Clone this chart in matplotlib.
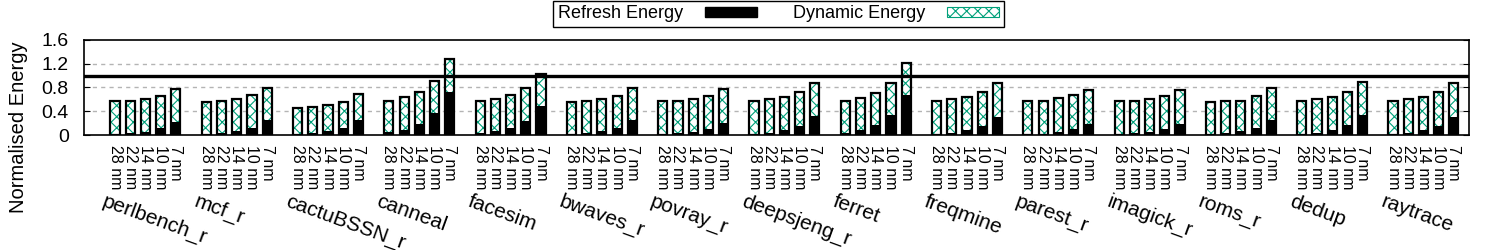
import matplotlib
matplotlib.use("Agg")
import matplotlib.pyplot as plt
import matplotlib.patches as mpatches
from matplotlib.transforms import blended_transform_factory
import numpy as np

plt.rcParams['font.family'] = ['Liberation Sans', 'DejaVu Sans']
plt.rcParams['hatch.linewidth'] = 0.8

benchmarks = ["perlbench_r", "mcf_r", "cactuBSSN_r", "canneal", "facesim", "bwaves_r",
              "povray_r", "deepsjeng_r", "ferret", "freqmine", "parest_r", "imagick_r",
              "roms_r", "dedup", "raytrace"]
nodes = ["28 nm", "22 nm", "14 nm", "10 nm", "7 nm"]

# total normalised energy (top of each bar)
total = [
    [0.57, 0.57, 0.60, 0.66, 0.77],  # perlbench_r
    [0.55, 0.57, 0.60, 0.67, 0.79],  # mcf_r
    [0.45, 0.47, 0.50, 0.55, 0.69],  # cactuBSSN_r
    [0.58, 0.64, 0.72, 0.91, 1.28],  # canneal
    [0.58, 0.60, 0.67, 0.79, 1.02],  # facesim
    [0.55, 0.57, 0.60, 0.65, 0.79],  # bwaves_r
    [0.57, 0.58, 0.60, 0.65, 0.77],  # povray_r
    [0.57, 0.60, 0.64, 0.72, 0.87],  # deepsjeng_r
    [0.58, 0.62, 0.70, 0.87, 1.21],  # ferret
    [0.58, 0.60, 0.64, 0.72, 0.87],  # freqmine
    [0.58, 0.58, 0.62, 0.67, 0.75],  # parest_r
    [0.57, 0.58, 0.60, 0.65, 0.75],  # imagick_r
    [0.55, 0.57, 0.58, 0.65, 0.79],  # roms_r
    [0.57, 0.60, 0.64, 0.72, 0.89],  # dedup
    [0.58, 0.60, 0.64, 0.72, 0.87],  # raytrace
]
refresh = [
    [0.01, 0.03, 0.05, 0.12, 0.22],
    [0.01, 0.03, 0.07, 0.12, 0.25],
    [0.01, 0.03, 0.07, 0.12, 0.25],
    [0.05, 0.08, 0.19, 0.37, 0.72],
    [0.03, 0.07, 0.12, 0.24, 0.49],
    [0.02, 0.03, 0.07, 0.12, 0.25],
    [0.02, 0.03, 0.05, 0.10, 0.21],
    [0.02, 0.03, 0.08, 0.15, 0.32],
    [0.03, 0.08, 0.17, 0.34, 0.67],
    [0.02, 0.03, 0.08, 0.15, 0.30],
    [0.02, 0.02, 0.05, 0.10, 0.19],
    [0.02, 0.03, 0.05, 0.10, 0.19],
    [0.02, 0.03, 0.07, 0.12, 0.25],
    [0.02, 0.03, 0.08, 0.17, 0.34],
    [0.02, 0.03, 0.08, 0.15, 0.30],
]
yticks = [0, 0.4, 0.8, 1.2, 1.6]
ytick_labels = ["0", "0.4", "0.8", "1.2", "1.6"]

hatch_color = '#00a07a'

fig = plt.figure(figsize=(15, 2.5), dpi=100)
ax = fig.add_axes([0.056, 0.46, 0.9233, 0.38])

period = 6
nb = len(nodes)
xs, refs, dyns, labels = [], [], [], []
for g, name in enumerate(benchmarks):
    for i in range(nb):
        xs.append(g * period + i)
        refs.append(refresh[g][i])
        dyns.append(total[g][i] - refresh[g][i])
        labels.append(nodes[i])
xs = np.array(xs)
refs = np.array(refs)
dyns = np.array(dyns)

w = 0.6
ax.bar(xs, refs, width=w, color='black', edgecolor='black', linewidth=1.2, zorder=3)
ax.bar(xs, dyns, bottom=refs, width=w, color='white', edgecolor=hatch_color,
       hatch='xxx', linewidth=0, zorder=3)
ax.bar(xs, refs + dyns, width=w, fill=False, edgecolor='black', linewidth=1.6, zorder=4)

ax.set_xlim(-2.04, 88.99)
ax.set_ylim(0, 1.6)
ax.set_yticks(yticks)
ax.set_yticklabels(ytick_labels, fontsize=14)
for yv in [0.4, 0.8, 1.2]:
    ax.axhline(yv, color='#b4b4b4', linestyle=(0, (3, 3)), linewidth=1.0, zorder=1)
ax.axhline(1.0, color='black', linewidth=2.4, zorder=5)

ax.set_xticks(xs)
ax.set_xticklabels(labels, rotation=-90, fontsize=11.5)
ax.tick_params(axis='x', length=0, pad=7)
ax.tick_params(axis='y', direction='in', length=4, right=True, left=True, pad=11)
for s in ax.spines.values():
    s.set_linewidth(1.2)

trans = blended_transform_factory(ax.transData, ax.transAxes)
for g, name in enumerate(benchmarks):
    ax.text(g * period - 0.55, -0.6, name, transform=trans, rotation=-20,
            rotation_mode='anchor', ha='left', va='top', fontsize=15)

fig.text(0.006, 0.492, "Normalised Energy", rotation=90, va='center', ha='left', fontsize=14.5)

h1 = mpatches.Patch(facecolor='black', edgecolor='black')
h2 = mpatches.Patch(facecolor='white', edgecolor=hatch_color, hatch='xxx', linewidth=0.8)
leg = fig.legend([h1, h2], ["Refresh Energy", "Dynamic Energy"], loc='upper center',
                 bbox_to_anchor=(0.519, 1.0), ncol=2, markerfirst=False, fontsize=13,
                 frameon=True, fancybox=False, framealpha=1, edgecolor='black',
                 handlelength=2.9, handleheight=0.5, columnspacing=2.0,
                 borderpad=0.25, handletextpad=1.2, borderaxespad=0.05)
leg.get_frame().set_linewidth(1.0)

fig.savefig("out.png", dpi=100)
